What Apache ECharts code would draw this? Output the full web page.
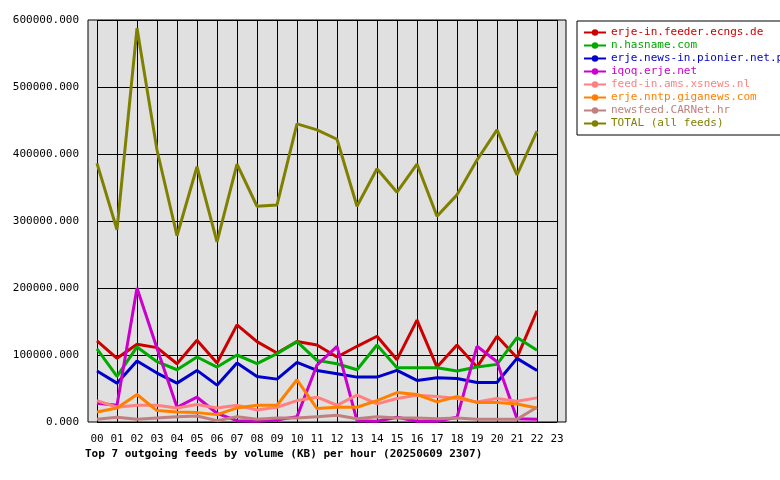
<!DOCTYPE html><html><head><meta charset="utf-8"><script src="https://cdn.jsdelivr.net/npm/echarts@6/dist/echarts.min.js"></script></head><body style="margin:0;background:#fff"><div id="c" style="width:780px;height:480px"></div><script>
const hours=['00','01','02','03','04','05','06','07','08','09','10','11','12','13','14','15','16','17','18','19','20','21','22','23'];
const names=['erje-in.feeder.ecngs.de','n.hasname.com','erje.news-in.pionier.net.pl','iqoq.erje.net','feed-in.ams.xsnews.nl','erje.nntp.giganews.com','newsfeed.CARNet.hr','TOTAL (all feeds)'];
const colors=['#cc0000','#00aa00','#0000cc','#cc00cc','#ff8080','#ff8000','#c08080','#808000'];
const red=[121000,95000,116000,111000,87000,122000,88000,145000,120000,103000,120000,115000,97000,113000,128000,93000,152000,82000,115000,82000,128000,96000,166000];
const green=[109000,68000,112000,90000,78000,97000,82000,100000,87000,102000,120000,92000,87000,78000,115000,81000,81000,81000,76000,82000,86000,126000,107000];
const blue=[76000,58000,91000,73000,58000,77000,55000,88000,68000,64000,89000,77000,72000,67000,67000,77000,62000,66000,65000,59000,59000,95000,77000];
const magenta=[28000,25000,200000,110000,22000,37000,13000,2000,1000,3000,8000,85000,113000,2000,1000,7000,1000,1000,7000,113000,90000,5000,4000];
const salmon=[32000,22000,25000,25000,21000,26000,21000,25000,18000,22000,32000,37000,25000,40000,27000,35000,40000,38000,35000,30000,35000,31000,36000];
const orange=[15000,21000,41000,17000,15000,14000,11000,21000,25000,25000,63000,20000,22000,22000,32000,44000,41000,30000,38000,29000,29000,27000,21000];
const rosy=[4000,7000,4000,6000,8000,9000,2000,8000,4000,6000,6000,8000,10000,5000,8000,6000,6000,5000,6000,4000,4000,4000,22000];
const total=[386000,287000,588000,406000,278000,381000,269000,385000,322000,324000,445000,436000,422000,322000,378000,343000,385000,307000,339000,391000,436000,369000,434000];
const vals=[red,green,blue,magenta,salmon,orange,rosy,total];
const font='DejaVu Sans Mono';
const ch=echarts.init(document.getElementById('c'));
ch.setOption({
 animation:false,
 title:{text:'Top 7 outgoing feeds by volume (KB) per hour (20250609 2307)',left:80,top:444,textStyle:{fontFamily:font,fontSize:11,fontWeight:'bold',color:'#000'}},
 grid:[{left:97,right:223,top:20,bottom:58},{left:88,right:214,top:20,bottom:58,show:true,backgroundColor:'#e0e0e0',borderColor:'#000',borderWidth:1,z:0}],
 xAxis:[{type:'category',data:hours,boundaryGap:false,gridIndex:0,axisLine:{show:false},axisTick:{show:false},
   axisLabel:{fontFamily:font,fontSize:11,color:'#000',margin:12},splitLine:{show:true,lineStyle:{color:'#000',width:1}}},
  {type:'value',gridIndex:1,show:false}],
 yAxis:[{type:'value',min:0,max:600000,interval:100000,gridIndex:0,axisLine:{show:false},axisTick:{show:false},
   axisLabel:{fontFamily:font,fontSize:11,color:'#000',margin:18,formatter:v=>v.toFixed(3)},splitLine:{lineStyle:{color:'#000',width:1}}},
  {type:'value',gridIndex:1,show:false}],
 legend:{orient:'vertical',left:577,top:21,width:190,backgroundColor:'#fff',borderColor:'#000',borderWidth:1,padding:[6,6,6,6],itemGap:2,itemWidth:22,itemHeight:8,
   data:names.map((n,i)=>({name:n,textStyle:{color:colors[i]}})),textStyle:{fontFamily:font,fontSize:11}},
 series:names.map((n,i)=>({name:n,type:'line',data:vals[i],symbol:'none',lineStyle:{width:3,color:colors[i]},itemStyle:{color:colors[i]},z:10+i}))
});
</script></body></html>
